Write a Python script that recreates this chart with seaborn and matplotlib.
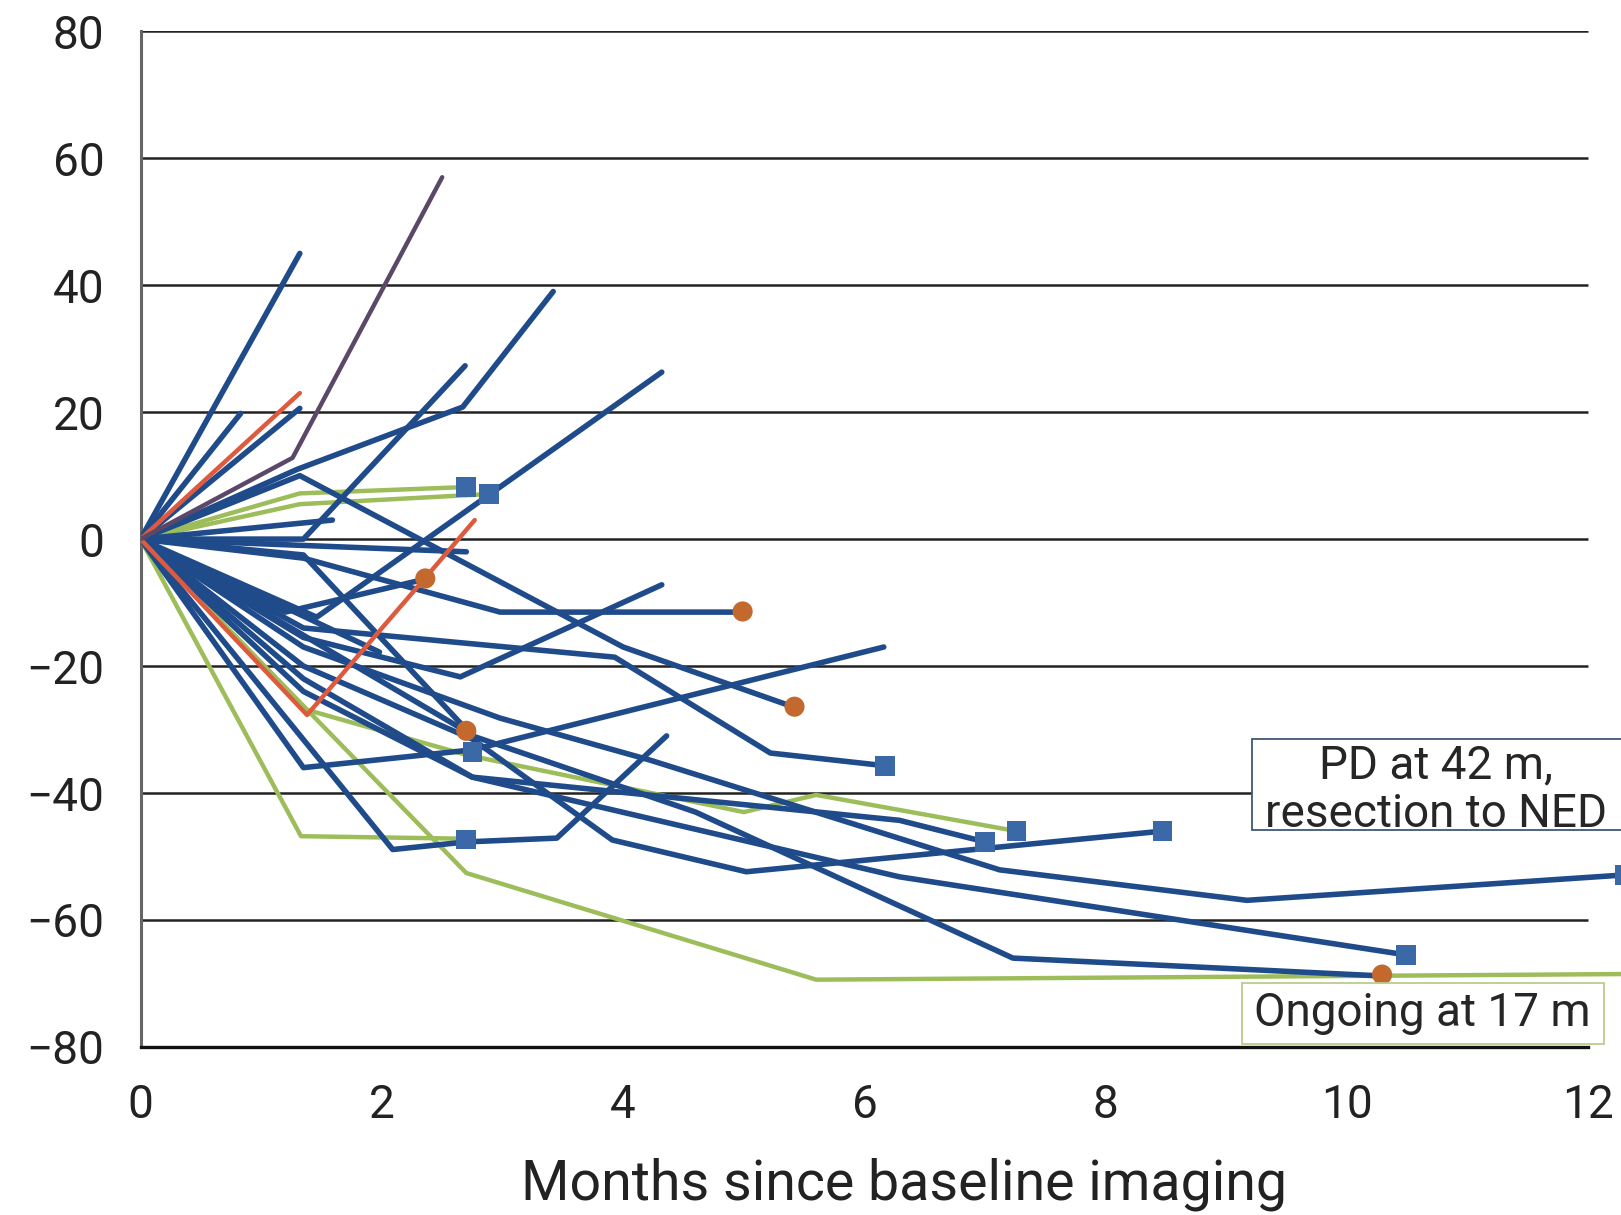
import matplotlib
matplotlib.use("Agg")
import matplotlib.pyplot as plt
from matplotlib.patches import Rectangle
import numpy as np
import pandas as pd
import seaborn as sns

# Spider plot: % change in tumour size per patient
# each entry is (months, percent change)

BLUE_LINES = [
    ([0, 1.32], [0, 45]),
    ([0, 0.83], [0, 19.8]),
    ([0, 1.32], [0, 20.6]),
    ([0, 1.3, 2.67, 3.42], [0, 11, 20.8, 39]),
    ([0, 1.35, 2.69], [0, 0, 27.3]),
    ([0, 1.32, 4.0, 5.42], [0, 10, -17, -26.5]),
    ([0, 1.59], [0, 3.0]),
    ([0, 2.7], [0, -2]),
    ([0, 1.46, 4.32], [0, -12.3, 26.3]),
    ([0, 1.2, 2.36], [0, -11.5, -6.3]),
    ([0, 1.35, 2.98, 4.99], [0, -3, -11.5, -11.5]),
    ([0, 1.35, 3.93, 5.22, 6.17], [0, -14, -18.6, -33.7, -35.7]),
    ([0, 1.35, 2.65, 4.32], [0, -15.5, -21.7, -7.2]),
    ([0, 1.35, 2.75, 6.16], [0, -36, -33.2, -17]),
    ([0, 2.09, 2.7, 3.45, 4.36], [0, -48.9, -47.7, -47.1, -31]),
    ([0, 1.35, 2.75, 3.91, 5.02, 8.47], [0, -20, -31.5, -47.4, -52.4, -46]),
    ([0, 1.35, 2.98, 4.22, 7.12, 9.17, 12.3], [0, -17, -28.2, -34.8, -52.1, -56.9, -52.9]),
    ([0, 1.35, 2.75, 6.29, 10.49], [0, -22, -37.5, -53.2, -65.5]),
    ([0, 1.35, 2.75, 4.6, 7.23, 10.27], [0, -2.5, -31, -43, -66, -68.8]),
    ([0, 1.35, 2.75, 6.29, 7.0], [0, -24, -37.5, -44.3, -47.7]),
    ([0, 2.7], [0, -30.3]),
    ([0, 1.98], [0, -17.8]),
]

GREEN_LINES = [
    ([0, 1.32, 2.7], [0, 7.2, 8.2]),
    ([0, 1.32, 2.89], [0, 5.5, 7.1]),
    ([0, 1.33, 2.7], [0, -46.8, -47.2]),
    ([0, 2.7, 5.6, 12.4], [0, -52.6, -69.4, -68.5]),
    ([0, 1.38, 2.7, 5.0, 5.6, 7.26], [0, -26.9, -34, -43, -40.3, -46]),
]

RED_LINES = [
    ([0, 1.32], [0, 23]),
    ([0, 1.38, 2.36, 2.77], [0, -27.7, -6.1, 3.0]),
]

PURPLE_LINES = [
    ([0, 1.26, 2.5], [0, 12.8, 57]),
]

square_x = [2.7, 2.89, 2.75, 2.7, 6.17, 7.0, 7.26, 8.47, 10.49, 12.3]
square_y = [8.2, 7.1, -33.5, -47.3, -35.7, -47.7, -46, -46, -65.5, -52.9]
circle_x = [2.36, 4.99, 5.42, 2.7, 10.29]
circle_y = [-6.2, -11.4, -26.4, -30.2, -68.6]

y_ticks = [-80, -60, -40, -20, 0, 20, 40, 60, 80]
x_ticks = [0, 2, 4, 6, 8, 10, 12]


def to_frame(lines, group):
    rows = []
    for i, (xs, ys) in enumerate(lines):
        for x, y in zip(xs, ys):
            rows.append({"patient": f"{group}{i}", "month": x, "change": y})
    return pd.DataFrame(rows)


sns.set_style("white")
plt.rcParams["font.family"] = ["Roboto", "DejaVu Sans"]

fig = plt.figure(figsize=(16.21, 12.15), dpi=100)
ax = fig.add_axes([0.0867, 0.1383, 0.9133, 0.836])

# gridlines only as far as 12 months
ax.hlines(y_ticks[1:], 0, 12, color="#222222", lw=1.8, zorder=1)

groups = [
    (GREEN_LINES, "g", "#9dbd5a", 3.2),
    (BLUE_LINES, "b", "#1f4b8a", 4.0),
    (RED_LINES, "r", "#de5a3e", 3.2),
    (PURPLE_LINES, "p", "#5b4868", 3.2),
]
for lines, tag, col, lw in groups:
    df = to_frame(lines, tag)
    sns.lineplot(data=df, x="month", y="change", units="patient",
                 estimator=None, sort=False, color=col, linewidth=lw, ax=ax,
                 zorder=3, legend=False)

sns.scatterplot(x=square_x, y=square_y, marker="s", s=200, color="#3b68a6",
                edgecolor="none", ax=ax, zorder=5, clip_on=False)
sns.scatterplot(x=circle_x, y=circle_y, marker="o", s=210, color="#c4692d",
                edgecolor="none", ax=ax, zorder=5)

# annotation boxes
ax.add_patch(Rectangle((9.21, -45.8), 4.0, 14.3, facecolor="white",
                       edgecolor="#3b5878", lw=1.3, zorder=6))
ax.text(10.74, -39.5, "PD at 42 m,\nresection to NED", ha="center",
        va="center", fontsize=33, linespacing=1.12, zorder=7)
ax.add_patch(Rectangle((9.13, -79.5), 3.0, 9.5, facecolor="white",
                       edgecolor="#b9cc8f", lw=1.3, zorder=6))
ax.text(10.62, -74.7, "Ongoing at 17 m", ha="center", va="center",
        fontsize=33, zorder=7)

ax.set_xlim(0, 12.27)
ax.set_ylim(-80, 80)
ax.set_xticks(x_ticks)
ax.set_yticks(y_ticks)
ax.tick_params(axis="y", length=10, width=1.8, color="#222222", pad=16,
               labelsize=33, labelcolor="#222222")
ax.tick_params(axis="x", length=8, width=1.6, color="#222222", pad=18,
               labelsize=33, labelcolor="#222222")

for side in ["top", "right"]:
    ax.spines[side].set_visible(False)
ax.spines["left"].set_color("#666666")
ax.spines["left"].set_linewidth(2.2)
ax.spines["bottom"].set_color("#111111")
ax.spines["bottom"].set_linewidth(2.4)
ax.spines["bottom"].set_bounds(0, 12)

ax.set_ylabel("")
ax.set_xlabel("Months since baseline imaging", fontsize=40, color="#222222")
ax.xaxis.set_label_coords(0.516, -0.135)
ax.xaxis.label.set_va("center")

fig.savefig("out.png", dpi=100)
